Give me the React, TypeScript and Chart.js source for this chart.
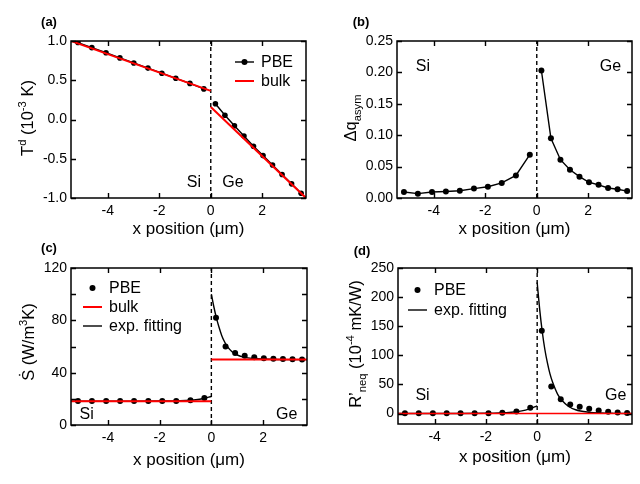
import React, { useEffect, useRef } from "react";
import { Chart, registerables } from "chart.js";
Chart.register(...registerables);

const FONT = "'Liberation Sans', Arial, Helvetica, sans-serif";

// x positions (µm)
const X_MIN = -5.43;
const X_MAX = 3.7;
const siX = [-5.16, -4.62, -4.07, -3.53, -2.99, -2.44, -1.9, -1.36, -0.81, -0.27];
const geX = [0.18, 0.55, 0.92, 1.29, 1.66, 2.03, 2.4, 2.77, 3.14, 3.51];

// (a) T^d
const siT = [0.98, 0.915, 0.85, 0.785, 0.72, 0.655, 0.59, 0.525, 0.46, 0.39];
const geT = [0.2, 0.055, -0.08, -0.21, -0.34, -0.46, -0.58, -0.7, -0.82, -0.94];
const bulkTSiX = [-5.43, 0];
const bulkTSi = [1.0, 0.365];
const bulkTGeX = [0, 3.7];
const bulkTGe = [0.16, -1.0];

// (b) Δq_asym
const siQ = [0.0096, 0.0069, 0.0095, 0.0103, 0.0115, 0.015, 0.018, 0.024, 0.036, 0.069];
const geQ = [0.203, 0.095, 0.061, 0.045, 0.034, 0.025, 0.021, 0.016, 0.014, 0.011];

// (c) Ṡ
const siS = [18.3, 18.3, 18.3, 18.3, 18.3, 18.3, 18.3, 18.4, 18.9, 20.6];
const geS = [82, 60, 55, 53, 51.7, 51, 50.7, 50.4, 50.2, 50];
const bulkSSi = 18.1;
const bulkSGe = 50;
const fitSSiX = [-5.43, -3, -2, -1.5, -1, -0.6, -0.3, 0];
const fitSSi = [18.2, 18.2, 18.3, 18.4, 18.7, 19.3, 20.3, 21.8];
const fitSGeX = [0, 0.1, 0.2, 0.3, 0.4, 0.5, 0.6, 0.8, 1.0, 1.3, 1.6, 2.0, 2.5, 3.0, 3.7];
const fitSGe = [100, 90, 81.5, 74.5, 68.5, 64, 60.5, 56, 53.5, 51.7, 50.9, 50.4, 50.1, 50.0, 50.0];

// (d) R'_neq
const siR = [0.5, 0.5, 0.5, 0.5, 0.5, 0.5, 0.6, 1.2, 3.4, 9.8];
const geR = [142, 46.5, 24.7, 15.5, 11.5, 8, 5.2, 3, 1.7, 1.1];
const bulkR = 0;
const fitRSiX = [-5.43, -3, -2, -1.5, -1, -0.6, -0.3, 0];
const fitRSi = [0, 0.1, 0.4, 0.9, 2.2, 4.5, 8, 13];
const fitRGeX = [0, 0.1, 0.2, 0.3, 0.4, 0.5, 0.6, 0.8, 1.0, 1.2, 1.5, 2.0, 2.5, 3.0, 3.7];
const fitRGe = [225, 178, 140, 110, 87, 68, 54, 33, 21, 13, 6.5, 2.3, 0.8, 0.3, 0.1];

const xTickValues = [-4, -2, 0, 2];

type Part = { t: string; s?: "sup" | "sub" };

const pts = (xs: number[], ys: number[]) => xs.map((x, i) => ({ x, y: ys[i] }));

function drawRich(ctx: CanvasRenderingContext2D, parts: Part[], cx: number, cy: number, size: number, rotate: boolean) {
  ctx.save();
  ctx.translate(cx, cy);
  if (rotate) ctx.rotate(-Math.PI / 2);
  let w = 0;
  for (const p of parts) {
    ctx.font = `${p.s ? size * 0.68 : size}px ${FONT}`;
    w += ctx.measureText(p.t).width;
  }
  let x = -w / 2;
  const base = size * 0.36;
  ctx.fillStyle = "#000";
  ctx.textBaseline = "alphabetic";
  ctx.textAlign = "left";
  for (const p of parts) {
    ctx.font = `${p.s ? size * 0.68 : size}px ${FONT}`;
    const y = base + (p.s === "sup" ? -size * 0.42 : p.s === "sub" ? size * 0.28 : 0);
    ctx.fillText(p.t, x, y);
    x += ctx.measureText(p.t).width;
  }
  ctx.restore();
}

type LegendItem = { label: string; kind: "lineDot" | "line" | "dot"; color: string };

type PanelCfg = {
  tag: string;
  area: { left: number; right: number; top: number; bottom: number };
  yMin: number;
  yMax: number;
  yStep: number;
  yLabelEvery: number;
  yDecimals: number;
  yTitle: Part[];
  yTitlePos: [number, number];
  xTitleY: number;
  tagPos: [number, number];
  siText: { x: number; y: number; align: CanvasTextAlign };
  geText: { x: number; y: number; align: CanvasTextAlign };
  legend?: { x: number; y: number; dy: number; items: LegendItem[] };
  datasets: any[];
};

const W = 320;
const H = 242;

function dashedZero(yMin: number, yMax: number) {
  return {
    type: "line",
    data: [
      { x: 0, y: yMin },
      { x: 0, y: yMax },
    ],
    borderColor: "#000",
    borderWidth: 1.4,
    borderDash: [4, 3],
    pointRadius: 0,
  };
}

function lineDS(xs: number[], ys: number[], color: string, width: number, smooth = false) {
  return {
    type: "line",
    data: pts(xs, ys),
    borderColor: color,
    borderWidth: width,
    pointRadius: 0,
    tension: smooth ? 0.4 : 0,
    cubicInterpolationMode: smooth ? "monotone" : "default",
  };
}

function dotDS(xs: number[], ys: number[], r: number, showLine: boolean) {
  return {
    type: "line",
    data: pts(xs, ys),
    borderColor: "#000",
    backgroundColor: "#000",
    borderWidth: 1.4,
    showLine,
    pointRadius: r,
    pointBorderWidth: 0,
    pointBackgroundColor: "#000",
  };
}

const panels: PanelCfg[] = [
  {
    tag: "(a)",
    area: { left: 71, right: 306, top: 41, bottom: 198 },
    yMin: -1,
    yMax: 1,
    yStep: 0.5,
    yLabelEvery: 0.5,
    yDecimals: 1,
    yTitle: [{ t: "T" }, { t: "d", s: "sup" }, { t: " (10" }, { t: "-3", s: "sup" }, { t: " K)" }],
    yTitlePos: [27, 118],
    xTitleY: 229,
    tagPos: [49, 22],
    siText: { x: -0.38, y: -0.8, align: "right" },
    geText: { x: 0.45, y: -0.8, align: "left" },
    legend: {
      x: 235,
      y: 62,
      dy: 19,
      items: [
        { label: "PBE", kind: "lineDot", color: "#000" },
        { label: "bulk", kind: "line", color: "#ff0000" },
      ],
    },
    datasets: [
      lineDS(bulkTSiX, bulkTSi, "#ff0000", 2),
      lineDS(bulkTGeX, bulkTGe, "#ff0000", 2),
      dotDS(siX, siT, 2.8, true),
      dotDS(geX, geT, 2.8, true),
      dashedZero(-1, 1),
    ],
  },
  {
    tag: "(b)",
    area: { left: 77, right: 312, top: 41, bottom: 198 },
    yMin: 0,
    yMax: 0.25,
    yStep: 0.05,
    yLabelEvery: 0.05,
    yDecimals: 2,
    yTitle: [{ t: "Δq" }, { t: "asym", s: "sub" }],
    yTitlePos: [30, 118],
    xTitleY: 229,
    tagPos: [41, 22],
    siText: { x: -4.7, y: 0.21, align: "left" },
    geText: { x: 3.28, y: 0.21, align: "right" },
    datasets: [dotDS(siX, siQ, 3, true), dotDS(geX, geQ, 3, true), dashedZero(0, 0.25)],
  },
  {
    tag: "(c)",
    area: { left: 71, right: 307, top: 26, bottom: 183 },
    yMin: 0,
    yMax: 120,
    yStep: 20,
    yLabelEvery: 40,
    yDecimals: 0,
    yTitle: [{ t: "Ṡ (W/m" }, { t: "3", s: "sup" }, { t: "K)" }],
    yTitlePos: [28, 100],
    xTitleY: 218,
    tagPos: [49, 6],
    siText: { x: -5.1, y: 8, align: "left" },
    geText: { x: 3.33, y: 8, align: "right" },
    legend: {
      x: 83,
      y: 46,
      dy: 19,
      items: [
        { label: "PBE", kind: "dot", color: "#000" },
        { label: "bulk", kind: "line", color: "#ff0000" },
        { label: "exp. fitting", kind: "line", color: "#000" },
      ],
    },
    datasets: [
      lineDS([X_MIN, 0], [bulkSSi, bulkSSi], "#ff0000", 2),
      lineDS([0, X_MAX], [bulkSGe, bulkSGe], "#ff0000", 2),
      lineDS(fitSSiX, fitSSi, "#000", 1.4, true),
      lineDS(fitSGeX, fitSGe, "#000", 1.4, true),
      dotDS(siX, siS, 3, false),
      dotDS(geX, geS, 3, false),
      dashedZero(0, 120),
    ],
  },
  {
    tag: "(d)",
    area: { left: 78, right: 312, top: 26, bottom: 182 },
    yMin: -18,
    yMax: 250,
    yStep: 50,
    yLabelEvery: 50,
    yDecimals: 0,
    yTitle: [{ t: "R’" }, { t: "neq", s: "sub" }, { t: " (10" }, { t: "-4", s: "sup" }, { t: " mK/W)" }],
    yTitlePos: [35, 102],
    xTitleY: 215,
    tagPos: [42, 9],
    siText: { x: -4.75, y: 31, align: "left" },
    geText: { x: 3.48, y: 31, align: "right" },
    legend: {
      x: 88,
      y: 48,
      dy: 20,
      items: [
        { label: "PBE", kind: "dot", color: "#000" },
        { label: "exp. fitting", kind: "line", color: "#000" },
      ],
    },
    datasets: [
      lineDS([X_MIN, X_MAX], [bulkR, bulkR], "#ff0000", 1.6),
      lineDS(fitRSiX, fitRSi, "#000", 1.4, true),
      lineDS(fitRGeX, fitRGe, "#000", 1.4, true),
      dotDS(siX, siR, 3, false),
      dotDS(geX, geR, 3, false),
      dashedZero(-18, 250),
    ],
  },
];

function makeDecor(cfg: PanelCfg) {
  return {
    id: "decor" + cfg.tag,
    afterDraw(chart: any) {
      const ctx: CanvasRenderingContext2D = chart.ctx;
      const { left, right, top, bottom } = chart.chartArea;
      const xs = chart.scales.x;
      const ys = chart.scales.y;
      ctx.save();
      // inward ticks
      ctx.strokeStyle = "#000";
      ctx.lineWidth = 1.4;
      const tl = 5;
      ctx.beginPath();
      for (const t of xs.ticks) {
        const px = Math.round(xs.getPixelForValue(t.value)) + 0.5;
        ctx.moveTo(px, top);
        ctx.lineTo(px, top + tl);
        ctx.moveTo(px, bottom);
        ctx.lineTo(px, bottom - tl);
      }
      for (const t of ys.ticks) {
        const py = Math.round(ys.getPixelForValue(t.value)) + 0.5;
        ctx.moveTo(left, py);
        ctx.lineTo(left + tl, py);
        ctx.moveTo(right, py);
        ctx.lineTo(right - tl, py);
      }
      ctx.stroke();
      // frame
      ctx.lineWidth = 1.5;
      ctx.strokeRect(left, top, right - left, bottom - top);

      // region labels
      ctx.fillStyle = "#000";
      ctx.font = `16px ${FONT}`;
      ctx.textBaseline = "middle";
      ctx.textAlign = cfg.siText.align;
      ctx.fillText("Si", xs.getPixelForValue(cfg.siText.x), ys.getPixelForValue(cfg.siText.y));
      ctx.textAlign = cfg.geText.align;
      ctx.fillText("Ge", xs.getPixelForValue(cfg.geText.x), ys.getPixelForValue(cfg.geText.y));

      // legend
      if (cfg.legend) {
        const L = cfg.legend;
        L.items.forEach((it, i) => {
          const y = L.y + i * L.dy;
          if (it.kind === "line" || it.kind === "lineDot") {
            ctx.strokeStyle = it.color;
            ctx.lineWidth = it.color === "#000" ? 1.4 : 2;
            ctx.beginPath();
            ctx.moveTo(L.x, y);
            ctx.lineTo(L.x + 19, y);
            ctx.stroke();
          }
          if (it.kind === "dot" || it.kind === "lineDot") {
            ctx.fillStyle = "#000";
            ctx.beginPath();
            ctx.arc(L.x + 9.5, y, 3, 0, Math.PI * 2);
            ctx.fill();
          }
          ctx.fillStyle = "#000";
          ctx.font = `16px ${FONT}`;
          ctx.textAlign = "left";
          ctx.textBaseline = "middle";
          ctx.fillText(it.label, L.x + 26, y + 1);
        });
      }

      // panel tag
      ctx.font = `bold 13px ${FONT}`;
      ctx.textAlign = "center";
      ctx.textBaseline = "middle";
      ctx.fillText(cfg.tag, cfg.tagPos[0], cfg.tagPos[1]);

      // y title
      drawRich(ctx, cfg.yTitle, cfg.yTitlePos[0], cfg.yTitlePos[1], 16.5, true);
      // x title
      ctx.font = `17px ${FONT}`;
      ctx.textAlign = "center";
      ctx.textBaseline = "middle";
      ctx.fillStyle = "#000";
      ctx.fillText("x position (μm)", (left + right) / 2, cfg.xTitleY);
      ctx.restore();
    },
  };
}

function Panel({ cfg, x, y }: { cfg: PanelCfg; x: number; y: number }) {
  const ref = useRef<HTMLCanvasElement | null>(null);
  useEffect(() => {
    if (!ref.current) return;
    const a = cfg.area;
    const chart = new Chart(ref.current, {
      type: "line",
      data: { datasets: cfg.datasets.map((d) => ({ ...d })) },
      options: {
        responsive: false,
        animation: false,
        devicePixelRatio: 1,
        layout: { padding: { left: 0, top: a.top, right: W - a.right, bottom: 0 } },
        plugins: { legend: { display: false }, tooltip: { enabled: false } },
        scales: {
          x: {
            type: "linear",
            min: X_MIN,
            max: X_MAX,
            afterBuildTicks: (s: any) => {
              s.ticks = xTickValues.map((v) => ({ value: v }));
            },
            afterFit: (s: any) => {
              s.height = H - a.bottom;
            },
            grid: { display: false, drawTicks: false },
            border: { display: false },
            ticks: {
              padding: 5,
              font: { family: FONT, size: 14 },
              color: "#000",
              autoSkip: false,
              maxRotation: 0,
              callback: (v: any) => String(v),
            },
          },
          y: {
            type: "linear",
            min: cfg.yMin,
            max: cfg.yMax,
            afterBuildTicks: (s: any) => {
              const t: any[] = [];
              const start = Math.ceil(cfg.yMin / cfg.yStep - 1e-9);
              const end = Math.floor(cfg.yMax / cfg.yStep + 1e-9);
              for (let k = start; k <= end; k++) t.push({ value: +(k * cfg.yStep).toFixed(6) });
              s.ticks = t;
            },
            afterFit: (s: any) => {
              s.width = a.left;
            },
            grid: { display: false, drawTicks: false },
            border: { display: false },
            ticks: {
              padding: 4,
              font: { family: FONT, size: 14 },
              color: "#000",
              autoSkip: false,
              callback: (v: any) => {
                const r = v / cfg.yLabelEvery;
                if (Math.abs(r - Math.round(r)) > 1e-6) return "";
                return Number(v).toFixed(cfg.yDecimals);
              },
            },
          },
        },
      } as any,
      plugins: [makeDecor(cfg)],
    });
    return () => chart.destroy();
  }, [cfg]);
  return (
    <canvas
      ref={ref}
      width={W}
      height={H}
      style={{ position: "absolute", left: x, top: y, width: W, height: H }}
    />
  );
}

export default function App() {
  return (
    <div style={{ position: "absolute", left: 0, top: 0, width: 640, height: 484, background: "#fff", overflow: "hidden" }}>
      <Panel cfg={panels[0]} x={0} y={0} />
      <Panel cfg={panels[1]} x={320} y={0} />
      <Panel cfg={panels[2]} x={0} y={242} />
      <Panel cfg={panels[3]} x={320} y={242} />
    </div>
  );
}
